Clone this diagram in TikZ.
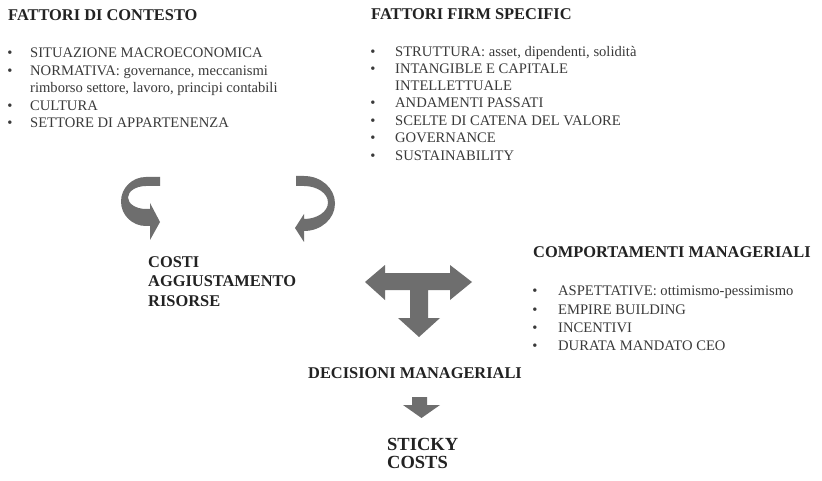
\documentclass[tikz,border=0pt]{standalone}
\usepackage{fontspec}
\setmainfont{Liberation Serif}
\definecolor{headc}{HTML}{222222}
\definecolor{txtc}{HTML}{3A3A3A}
\definecolor{arrc}{HTML}{6E6E6E}
\tikzset{
 head/.style={anchor=base west, inner sep=0pt, font=\fontsize{16.4}{19}\selectfont\bfseries, text=headc},
 big/.style={anchor=base west, inner sep=0pt, font=\fontsize{18.5}{21}\selectfont\bfseries, text=headc},
 txt/.style={anchor=base west, inner sep=0pt, font=\fontsize{14.6}{18}\selectfont, text=txtc},
 bul/.style={anchor=base, inner sep=0pt, font=\fontsize{14.6}{18}\selectfont, text=txtc},
 arr/.style={fill=arrc, draw=none}
}
\begin{document}
\begin{tikzpicture}[x=1pt,y=-1pt]
\useasboundingbox[fill=white] (0,0) rectangle (822,481);
% left block
\node[head] (h1) at (8,21) {FATTORI DI CONTESTO};
\node[bul] (b1) at (10,58) {•};  \node[txt] (t1) at (30,58) {SITUAZIONE MACROECONOMICA};
\node[bul] (b2) at (10,75.5) {•};  \node[txt] (t2) at (30,75.5) {NORMATIVA: governance, meccanismi};
\node[txt] (t2b) at (30,93) {rimborso settore, lavoro, principi contabili};
\node[bul] (b3) at (10,110.5) {•};  \node[txt] (t3) at (30,110.5) {CULTURA};
\node[bul] (b4) at (10,128) {•};  \node[txt] (t4) at (30,128) {SETTORE DI APPARTENENZA};
% right upper block
\node[head] (h2) at (371,20) {FATTORI FIRM SPECIFIC};
\node[bul] (c1) at (373,57) {•};  \node[txt] (s1) at (395,57) {STRUTTURA: asset, dipendenti, solidità};
\node[bul] (c2) at (373,74) {•};  \node[txt] (s2) at (395,74) {INTANGIBLE E CAPITALE};
\node[txt] (s2b) at (395,91) {INTELLETTUALE};
\node[bul] (c3) at (373,108) {•};  \node[txt] (s3) at (395,108) {ANDAMENTI PASSATI};
\node[bul] (c4) at (373,126) {•};  \node[txt] (s4) at (395,126) {SCELTE DI CATENA DEL VALORE};
\node[bul] (c5) at (373,143) {•};  \node[txt] (s5) at (395,143) {GOVERNANCE};
\node[bul] (c6) at (373,161) {•};  \node[txt] (s6) at (395,161) {SUSTAINABILITY};
% curved arrows
\fill[arr] (160,177) -- (146,177) arc[start angle=270, end angle=90, x radius=25, y radius=24.5]
  -- (150,226) -- (150,240) -- (160,222) -- (150,203) -- (150,209) -- (146,209)
  arc[start angle=90, end angle=270, x radius=18, y radius=11.5] -- (160,186) -- cycle;
\fill[arr] (296,176) -- (304,176) arc[start angle=270, end angle=450, x radius=31, y radius=27.5]
  -- (304,242) -- (295,228) -- (304,214) -- (304,219)
  arc[start angle=90, end angle=-90, x radius=24, y radius=16.5] -- (296,186) -- cycle;
% costi
\node[head] (k1) at (148,268) {COSTI};
\node[head] (k2) at (148,287) {AGGIUSTAMENTO};
\node[head] (k3) at (148,306) {RISORSE};
% T arrow
\fill[arr] (365,282) -- (385,265) -- (385,273) -- (450,273) -- (450,265) -- (472,282)
  -- (450,300) -- (450,290) -- (428,290) -- (428,318) -- (440,318) -- (419,337)
  -- (398,318) -- (410,318) -- (410,290) -- (385,290) -- (385,300) -- cycle;
% comportamenti
\node[head] (h3) at (533,258) {COMPORTAMENTI MANAGERIALI};
\node[bul] (d1) at (535,295) {•};  \node[txt] (m1) at (558,295) {ASPETTATIVE: ottimismo-pessimismo};
\node[bul] (d2) at (535,314) {•};  \node[txt] (m2) at (558,314) {EMPIRE BUILDING};
\node[bul] (d3) at (535,332) {•};  \node[txt] (m3) at (558,332) {INCENTIVI};
\node[bul] (d4) at (535,350) {•};  \node[txt] (m4) at (558,350) {DURATA MANDATO CEO};
% decisioni
\node[head] (dm) at (308,378) {DECISIONI MANAGERIALI};
\fill[arr] (412,397) -- (427,397) -- (427,405) -- (440,405) -- (421.5,418) -- (403,405) -- (412,405) -- cycle;
\node[big] (sc1) at (387,450) {STICKY};
\node[big] (sc2) at (387,468) {COSTS};
\end{tikzpicture}
\end{document}
